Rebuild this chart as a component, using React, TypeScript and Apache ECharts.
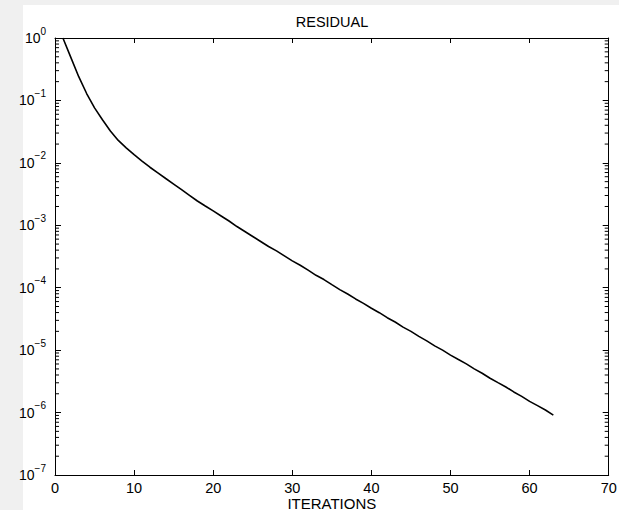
import React, { useEffect, useRef } from "react";
import * as echarts from "echarts";

const iterations: number[] = [
  1, 2, 3, 4, 5, 6, 7, 8, 9, 10, 11, 12, 13, 14, 15, 16, 17, 18, 19, 20, 21,
  22, 23, 24, 25, 26, 27, 28, 29, 30, 31, 32, 33, 34, 35, 36, 37, 38, 39, 40,
  41, 42, 43, 44, 45, 46, 47, 48, 49, 50, 51, 52, 53, 54, 55, 56, 57, 58, 59,
  60, 61, 62, 63,
];

const residual: number[] = [
  1.0, 0.49, 0.24, 0.129, 0.0759, 0.049, 0.0324, 0.0229, 0.0174, 0.0135,
  0.0107, 0.00851, 0.00692, 0.00562, 0.00457, 0.00372, 0.00302, 0.00245,
  0.00204, 0.0017, 0.00141, 0.00117, 9.55e-4, 7.94e-4, 6.61e-4, 5.5e-4,
  4.57e-4, 3.89e-4, 3.24e-4, 2.69e-4, 2.29e-4, 1.91e-4, 1.58e-4, 1.35e-4,
  1.12e-4, 9.33e-5, 7.94e-5, 6.61e-5, 5.62e-5, 4.68e-5, 3.98e-5, 3.31e-5,
  2.82e-5, 2.34e-5, 2.0e-5, 1.66e-5, 1.41e-5, 1.17e-5, 1.0e-5, 8.32e-6,
  7.08e-6, 6.03e-6, 5.01e-6, 4.27e-6, 3.55e-6, 3.02e-6, 2.57e-6, 2.14e-6,
  1.82e-6, 1.51e-6, 1.29e-6, 1.1e-6, 9.12e-7,
];

const xTicks: number[] = [0, 10, 20, 30, 40, 50, 60, 70];
const decadeExponents: number[] = [-7, -6, -5, -4, -3, -2, -1];
const minorMultipliers: number[] = [2, 3, 4, 5, 6, 7, 8, 9];

const FONT = "'Liberation Sans', Arial, Helvetica, sans-serif";

export default function App() {
  const ref = useRef<HTMLDivElement>(null);

  useEffect(() => {
    if (!ref.current) return;
    const chart = echarts.init(ref.current, null, { renderer: "svg" });

    const minorData: number[][] = [];
    decadeExponents.forEach((e) => {
      minorMultipliers.forEach((m) => {
        minorData.push([1, m * Math.pow(10, e)]);
      });
    });

    const yLabel = (v: number) => {
      const exp = Math.round(Math.log10(v));
      const s = exp < 0 ? "\u2212" + Math.abs(exp) : String(exp);
      return `{b|10}{s|${s}}`;
    };

    const axisLine = { show: true, onZero: false, lineStyle: { color: "#000", width: 1 } };

    const option: any = {
      animation: false,
      backgroundColor: "#f0f0f0",
      graphic: [
        {
          type: "rect",
          z: -10,
          silent: true,
          shape: { x: 23, y: 5, width: 596, height: 505 },
          style: { fill: "#ffffff" },
        },
      ],
      title: {
        text: "RESIDUAL",
        left: 332,
        textAlign: "center",
        top: 14,
        padding: 0,
        textStyle: {
          fontFamily: FONT,
          fontSize: 14.5,
          fontWeight: "normal",
          color: "#000",
        },
      },
      grid: {
        left: 55,
        top: 38,
        width: 553.7,
        height: 437,
        containLabel: false,
        outerBoundsMode: "none",
      },
      xAxis: [
        {
          type: "value",
          min: xTicks[0],
          max: xTicks[xTicks.length - 1],
          interval: 10,
          name: "ITERATIONS",
          nameLocation: "middle",
          nameGap: 21,
          nameMoveOverlap: false,
          nameTextStyle: {
            fontFamily: FONT,
            fontSize: 15,
            color: "#000",
            verticalAlign: "top",
            lineHeight: 14,
          },
          axisLine,
          axisTick: { show: true, inside: true, length: 5, lineStyle: { color: "#000" } },
          axisLabel: {
            fontFamily: FONT,
            fontSize: 14.5,
            color: "#000",
            margin: 6,
            lineHeight: 14,
          },
          splitLine: { show: false },
        },
        {
          type: "value",
          position: "top",
          min: xTicks[0],
          max: xTicks[xTicks.length - 1],
          interval: 10,
          axisLine,
          axisTick: { show: true, inside: true, length: 5, lineStyle: { color: "#000" } },
          axisLabel: { show: false },
          splitLine: { show: false },
        },
      ],
      yAxis: [
        {
          type: "log",
          logBase: 10,
          min: 1e-7,
          max: 1,
          interval: 1,
          axisLine,
          axisTick: { show: true, inside: true, length: 6, lineStyle: { color: "#000" } },
          axisLabel: {
            margin: 9,
            formatter: yLabel,
            rich: {
              b: {
                fontFamily: FONT,
                fontSize: 14,
                color: "#000",
                lineHeight: 15,
                verticalAlign: "middle",
              },
              s: {
                fontFamily: FONT,
                fontSize: 10,
                color: "#000",
                lineHeight: 24,
                height: 10,
                padding: [0, 0, 14, 0],
                verticalAlign: "middle",
              },
            },
          },
          splitLine: { show: false },
        },
        {
          type: "log",
          logBase: 10,
          position: "right",
          min: 1e-7,
          max: 1,
          interval: 1,
          axisLine,
          axisTick: { show: true, inside: true, length: 6, lineStyle: { color: "#000" } },
          axisLabel: { show: false },
          splitLine: { show: false },
        },
      ],
      series: [
        {
          type: "line",
          xAxisIndex: 0,
          yAxisIndex: 0,
          data: iterations.map((x, i) => [x, residual[i]]),
          showSymbol: false,
          symbol: "none",
          lineStyle: { color: "#000", width: 1.6 },
          z: 5,
        },
        {
          type: "custom",
          xAxisIndex: 0,
          yAxisIndex: 0,
          silent: true,
          clip: false,
          z: 6,
          data: minorData,
          encode: { x: 0, y: 1 },
          renderItem: (params: any, api: any) => {
            const cs = params.coordSys;
            const y = api.coord([1, api.value(1)])[1];
            return {
              type: "group",
              children: [
                {
                  type: "line",
                  shape: { x1: cs.x, y1: y, x2: cs.x + 4, y2: y },
                  style: { stroke: "#000", lineWidth: 1 },
                },
                {
                  type: "line",
                  shape: { x1: cs.x + cs.width - 4, y1: y, x2: cs.x + cs.width, y2: y },
                  style: { stroke: "#000", lineWidth: 1 },
                },
              ],
            };
          },
        },
      ],
    };

    chart.setOption(option);
    return () => chart.dispose();
  }, []);

  return (
    <div
      ref={ref}
      style={{ position: "fixed", left: 0, top: 0, width: 619, height: 510 }}
    />
  );
}
